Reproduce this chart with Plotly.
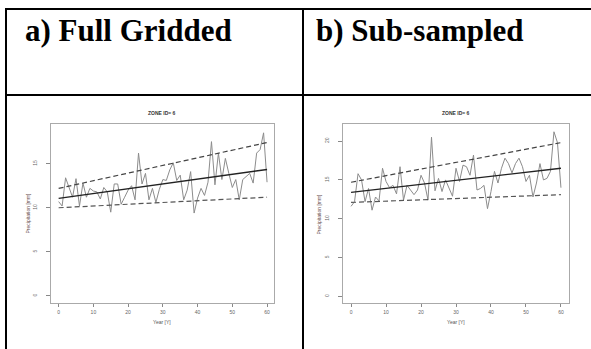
import plotly.graph_objects as go

W, H = 591, 349

years = list(range(61))

# Panel a) Full Gridded - precipitation [mm]
precip_a = [10.7, 10.2, 13.4, 12.2, 11.2, 13.3, 10.2, 12.8, 11.2, 12.2,
            11.9, 11.8, 11.0, 12.3, 11.8, 9.5, 12.7, 12.7, 10.4, 11.2,
            12.0, 12.5, 10.9, 16.2, 12.7, 13.9, 10.9, 12.2, 10.6, 12.1,
            13.2, 13.1, 14.3, 15.1, 13.1, 13.7, 10.9, 12.0, 14.1, 9.4,
            11.1, 12.2, 11.4, 12.9, 17.5, 12.6, 16.2, 13.2, 15.6, 13.9,
            12.3, 13.2, 10.9, 13.2, 13.6, 13.9, 12.8, 16.2, 16.6, 18.5,
            12.9]
trend_years = [0, 60]
trend_a = [11.06, 14.34]
upper_a = [12.2, 17.4]
lower_a = [10.0, 11.2]

# Panel b) Sub-sampled - precipitation [mm]
precip_b = [11.6, 12.2, 15.8, 15.0, 12.2, 13.9, 11.1, 12.8, 12.3, 16.5,
            14.8, 14.0, 14.3, 13.2, 16.7, 12.4, 14.3, 13.7, 13.1, 13.7,
            15.6, 14.6, 12.4, 20.5, 13.6, 15.2, 13.5, 15.0, 13.9, 12.9,
            16.5, 14.8, 16.9, 16.7, 15.6, 18.2, 13.7, 13.9, 14.3, 11.3,
            13.5, 16.1, 14.6, 16.5, 17.8, 17.1, 15.9, 17.1, 17.8, 16.7,
            14.8, 15.6, 12.8, 14.6, 17.1, 15.0, 15.2, 16.1, 21.2, 19.8,
            14.0]
trend_b = [13.4, 16.5]
upper_b = [14.7, 19.8]
lower_b = [12.1, 13.1]

x_ticks = [0, 10, 20, 30, 40, 50, 60]
y_ticks_a = [0, 5, 10, 15]
y_ticks_b = [0, 5, 10, 15, 20]

headers = ["a) Full Gridded", "b) Sub-sampled"]
plot_title = "ZONE ID= 6"
x_title = "Year [Y]"
y_title = "Precipitation [mm]"

fig = go.Figure()

def px_x(p):
    return p / W

def px_y(p):
    return 1 - p / H

panels = [
    dict(x="x", y="y", data=precip_a, trend=trend_a, up=upper_a, lo=lower_a),
    dict(x="x2", y="y2", data=precip_b, trend=trend_b, up=upper_b, lo=lower_b),
]
for p in panels:
    fig.add_trace(go.Scatter(x=years, y=p["data"], mode="lines",
                             line=dict(color="#8c8c8c", width=1),
                             xaxis=p["x"], yaxis=p["y"], showlegend=False))
    for key, dash, col, wd in [("up", "5px,3px", "#444444", 1.2),
                               ("lo", "5px,3px", "#555555", 1.2),
                               ("trend", "solid", "#222222", 1.4)]:
        fig.add_trace(go.Scatter(x=trend_years, y=p[key], mode="lines",
                                 line=dict(color=col, width=wd, dash=dash),
                                 xaxis=p["x"], yaxis=p["y"], showlegend=False))

font_small = dict(family="Liberation Sans", size=5, color="#666666")
common_x = dict(tickvals=x_ticks, ticks="outside", ticklen=3, tickcolor="#888888",
                showline=True, linecolor="#aaaaaa", linewidth=1, mirror=True,
                showgrid=False, zeroline=False, tickfont=font_small,
                ticklabelstandoff=1)
common_y = dict(ticks="outside", ticklen=4, tickcolor="#888888",
                showline=True, linecolor="#aaaaaa", linewidth=1, mirror=True,
                showgrid=False, zeroline=False, tickfont=font_small,
                tickangle=-90, ticklabelstandoff=7)

box_a = (51, 274, 124, 303)
box_b = (343, 569, 124, 303)

fig.update_layout(
    width=W, height=H, margin=dict(l=0, r=0, t=0, b=0),
    paper_bgcolor="white", plot_bgcolor="white",
    xaxis=dict(common_x, domain=[px_x(box_a[0]), px_x(box_a[1])], range=[-2.2, 62.0], anchor="y"),
    yaxis=dict(common_y, domain=[px_y(box_a[3]), px_y(box_a[2])], range=[-0.8, 19.5],
               tickvals=y_ticks_a, anchor="x"),
    xaxis2=dict(common_x, domain=[px_x(box_b[0]), px_x(box_b[1])], range=[-2.3, 62.3], anchor="y2"),
    yaxis2=dict(common_y, domain=[px_y(box_b[3]), px_y(box_b[2])], range=[-0.85, 22.2],
                tickvals=y_ticks_b, anchor="x2"),
)

# Table lines
line_style = dict(color="black", width=2)
shapes = [
    dict(type="line", xref="paper", yref="paper", x0=px_x(5), x1=1.0, y0=px_y(9), y1=px_y(9), line=line_style),
    dict(type="line", xref="paper", yref="paper", x0=px_x(5), x1=1.0, y0=px_y(95), y1=px_y(95), line=line_style),
    dict(type="line", xref="paper", yref="paper", x0=px_x(6), x1=px_x(6), y0=px_y(8), y1=0, line=line_style),
    dict(type="line", xref="paper", yref="paper", x0=px_x(303), x1=px_x(303), y0=px_y(8), y1=0, line=line_style),
]
fig.update_layout(shapes=shapes)

ann = []
for txt, x in zip(headers, [23, 314]):
    ann.append(dict(text="<b>%s</b>" % txt, x=px_x(x), y=px_y(30), xref="paper", yref="paper",
                    xanchor="left", yanchor="middle", showarrow=False,
                    font=dict(family="Liberation Serif", size=31, color="black")))
for box, ytx in [(box_a, 27), (box_b, 318)]:
    cx = (box[0] + box[1]) / 2
    cy = (box[2] + box[3]) / 2
    ann.append(dict(text="<b>%s</b>" % plot_title, x=px_x(cx), y=px_y(113), xref="paper", yref="paper",
                    xanchor="center", yanchor="middle", showarrow=False,
                    font=dict(family="Liberation Sans", size=5, color="#333333")))
    ann.append(dict(text=x_title, x=px_x(cx), y=px_y(322), xref="paper", yref="paper",
                    xanchor="center", yanchor="middle", showarrow=False,
                    font=dict(family="Liberation Sans", size=5, color="#555555")))
    ann.append(dict(text=y_title, x=px_x(ytx), y=px_y(cy), xref="paper", yref="paper",
                    xanchor="center", yanchor="middle", showarrow=False, textangle=-90,
                    font=dict(family="Liberation Sans", size=5, color="#6b5050")))
fig.update_layout(annotations=ann)

fig.write_html("out.html", config={"displayModeBar": False},
               post_script="document.body.style.margin='0';document.body.style.overflow='hidden';")
